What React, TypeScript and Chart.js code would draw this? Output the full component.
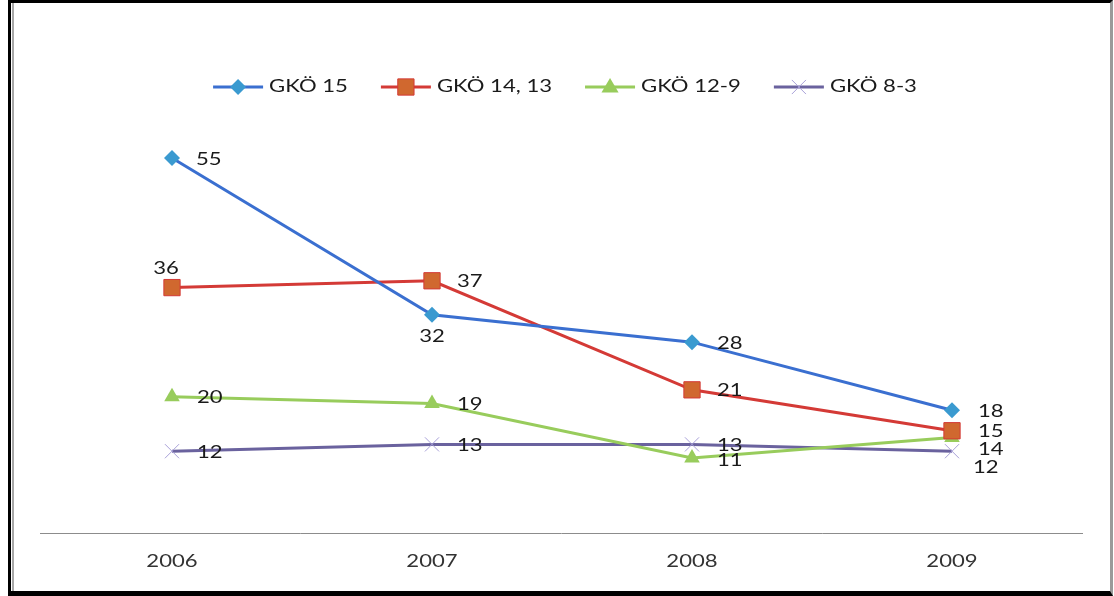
import React, { useEffect, useRef } from "react";
import { Chart, registerables } from "chart.js";

Chart.register(...registerables);

// Years on the category axis
const years = ["2006", "2007", "2008", "2009"];

// Series values
const gko15 = [55, 32, 28, 18];
const gko1413 = [36, 37, 21, 15];
const gko129 = [20, 19, 11, 14];
const gko83 = [12, 13, 13, 12];

const seriesNames = ["GKÖ 15", "GKÖ 14, 13", "GKÖ 12-9", "GKÖ 8-3"];

// Value-label placement per point: [dx, dy, align]
type Place = [number, number, CanvasTextAlign];
const labelPlaces: Place[][] = [
  [[24, 1, "left"], [0, 22, "center"], [25, 1, "left"], [26, 1, "left"]],
  [[-6, -19, "center"], [25, 1, "left"], [25, 1, "left"], [26, 1, "left"]],
  [[25, 1, "left"], [25, 1, "left"], [25, 2, "left"], [26, 12, "left"]],
  [[25, 1, "left"], [25, 1, "left"], [25, 1, "left"], [21, 16, "left"]],
];

const FONT = "Lato, 'Open Sans', sans-serif";
const SX = 1.3; // horizontal stretch of all chart text

function drawText(
  ctx: CanvasRenderingContext2D,
  text: string,
  x: number,
  y: number,
  align: CanvasTextAlign,
  size: number,
  color = "#1a1a1a"
) {
  ctx.save();
  ctx.font = `${size}px ${FONT}`;
  const w = ctx.measureText(text).width * SX;
  const left = align === "center" ? x - w / 2 : align === "right" ? x - w : x;
  ctx.translate(left, y);
  ctx.scale(SX, 1);
  ctx.textAlign = "left";
  ctx.textBaseline = "middle";
  ctx.fillStyle = color;
  ctx.fillText(text, 0, 0);
  ctx.restore();
  return w;
}

function drawMarker(ctx: CanvasRenderingContext2D, style: string, x: number, y: number, r: number) {
  ctx.beginPath();
  if (style === "rectRot") {
    ctx.moveTo(x, y - r);
    ctx.lineTo(x + r, y);
    ctx.lineTo(x, y + r);
    ctx.lineTo(x - r, y);
    ctx.closePath();
    ctx.fill();
  } else if (style === "rect") {
    const s = r * Math.SQRT1_2;
    ctx.rect(x - s, y - s, 2 * s, 2 * s);
    ctx.fill();
    ctx.stroke();
  } else if (style === "triangle") {
    ctx.moveTo(x, y - r);
    ctx.lineTo(x + r * 0.95, y + r * 0.6);
    ctx.lineTo(x - r * 0.95, y + r * 0.6);
    ctx.closePath();
    ctx.fill();
  } else {
    const d = r * Math.SQRT1_2;
    ctx.moveTo(x - d, y - d);
    ctx.lineTo(x + d, y + d);
    ctx.moveTo(x + d, y - d);
    ctx.lineTo(x - d, y + d);
    ctx.stroke();
  }
}

const overlay = {
  id: "overlay",
  afterDatasetsDraw(chart: any) {
    const ctx: CanvasRenderingContext2D = chart.ctx;
    const area = chart.chartArea;
    const xs = chart.scales.x;

    // category axis line
    ctx.save();
    ctx.strokeStyle = "#8c8c8c";
    ctx.lineWidth = 1;
    ctx.beginPath();
    ctx.moveTo(area.left - 2, Math.round(area.bottom) + 0.5);
    ctx.lineTo(area.right + 1, Math.round(area.bottom) + 0.5);
    ctx.stroke();
    ctx.restore();

    // category labels
    years.forEach((y, i) => {
      drawText(ctx, y, xs.getPixelForValue(i), area.bottom + 29, "center", 17, "#333");
    });

    // value labels
    chart.data.datasets.forEach((ds: any, di: number) => {
      const meta = chart.getDatasetMeta(di);
      meta.data.forEach((pt: any, i: number) => {
        const [dx, dy, al] = labelPlaces[di][i];
        drawText(ctx, String(ds.data[i]), pt.x + dx, pt.y + dy, al, 17, "#1a1a1a");
      });
    });

    // legend: line with marker, then name
    const legendSize = 17;
    ctx.save();
    ctx.font = `${legendSize}px ${FONT}`;
    const lineLen = 50;
    const gapText = 6;
    const gapItem = 33;
    const widths = seriesNames.map((n) => ctx.measureText(n).width * SX);
    ctx.restore();
    const total =
      widths.reduce((a, b) => a + b, 0) + seriesNames.length * (lineLen + gapText) + gapItem * (seriesNames.length - 1);
    let x = (area.left + area.right) / 2 + 3 - total / 2;
    const ly = 87;
    chart.data.datasets.forEach((ds: any, di: number) => {
      ctx.save();
      ctx.strokeStyle = ds.borderColor;
      ctx.lineWidth = 3;
      ctx.beginPath();
      ctx.moveTo(x, ly);
      ctx.lineTo(x + lineLen, ly);
      ctx.stroke();
      ctx.restore();
      ctx.save();
      ctx.fillStyle = ds.pointBackgroundColor;
      ctx.strokeStyle = ds.pointBorderColor;
      ctx.lineWidth = ds.pointBorderWidth || 1;
      drawMarker(ctx, ds.pointStyle, x + lineLen / 2, ly, ds.pointRadius);
      ctx.restore();
      drawText(ctx, seriesNames[di], x + lineLen + gapText, ly, "left", legendSize, "#1a1a1a");
      x += lineLen + gapText + widths[di] + gapItem;
    });
  },
};

export default function App() {
  const ref = useRef<HTMLCanvasElement | null>(null);

  useEffect(() => {
    document.body.style.margin = "0";
    const canvas = ref.current;
    if (!canvas) return;
    const chart = new Chart(canvas, {
      type: "line",
      data: {
        labels: years,
        datasets: [
          {
            label: seriesNames[0],
            data: gko15,
            borderColor: "#3a6fd0",
            backgroundColor: "#3a9ad0",
            pointBackgroundColor: "#3a9ad0",
            pointBorderColor: "#3a9ad0",
            pointBorderWidth: 0,
            pointStyle: "rectRot",
            pointRadius: 8,
            borderWidth: 3,
          },
          {
            label: seriesNames[1],
            data: gko1413,
            borderColor: "#d43a36",
            backgroundColor: "#d0682f",
            pointBackgroundColor: "#d0682f",
            pointBorderColor: "#d43a36",
            pointBorderWidth: 1,
            pointStyle: "rect",
            pointRadius: 11.5,
            borderWidth: 3,
          },
          {
            label: seriesNames[2],
            data: gko129,
            borderColor: "#98cc5c",
            backgroundColor: "#98cc5c",
            pointBackgroundColor: "#98cc5c",
            pointBorderColor: "#98cc5c",
            pointBorderWidth: 0,
            pointStyle: "triangle",
            pointRadius: 9,
            borderWidth: 3,
          },
          {
            label: seriesNames[3],
            data: gko83,
            borderColor: "#6a629e",
            backgroundColor: "#a8a0d8",
            pointBackgroundColor: "#a8a0d8",
            pointBorderColor: "#a8a0d8",
            pointBorderWidth: 1,
            pointStyle: "crossRot",
            pointRadius: 10,
            borderWidth: 3,
          },
        ],
      },
      options: {
        animation: false,
        responsive: false,
        devicePixelRatio: 1,
        layout: { padding: { left: 42, right: 32, top: 124, bottom: 63 } },
        plugins: { legend: { display: false }, tooltip: { enabled: false } },
        elements: { line: { tension: 0 } },
        scales: {
          x: { display: false, offset: true },
          y: { display: false, min: 0, max: 60 },
        },
      },
      plugins: [overlay],
    });
    return () => chart.destroy();
  }, []);

  return (
    <div style={{ position: "absolute", left: 0, top: 0, width: 1114, height: 596, background: "#fff", overflow: "hidden" }}>
      <div
        style={{
          position: "absolute",
          left: 8,
          top: 0,
          width: 1099,
          height: 588,
          borderTop: "3px solid #000",
          borderLeft: "3px solid #000",
          borderBottom: "5px solid #000",
          borderRight: "3px solid #9a9a9a",
        }}
      />
      <div style={{ position: "absolute", left: 12, top: 3, width: 2, height: 588, background: "#a8a8a8" }} />
      <canvas ref={ref} width={1114} height={596} style={{ position: "absolute", left: 0, top: 0 }} />
    </div>
  );
}
